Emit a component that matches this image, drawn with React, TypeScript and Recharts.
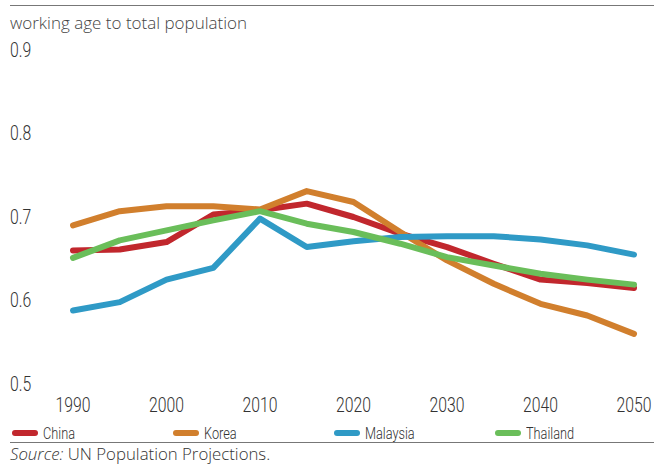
import React from "react";
import { LineChart, Line, XAxis, YAxis } from "recharts";

const years = [1990, 1995, 2000, 2005, 2010, 2015, 2020, 2025, 2030, 2035, 2040, 2045, 2050];
const china = [0.66, 0.661, 0.67, 0.703, 0.708, 0.716, 0.7, 0.68, 0.664, 0.644, 0.625, 0.621, 0.615];
const korea = [0.69, 0.707, 0.713, 0.713, 0.709, 0.731, 0.718, 0.682, 0.648, 0.62, 0.596, 0.582, 0.56];
const malaysia = [0.588, 0.598, 0.625, 0.639, 0.698, 0.664, 0.671, 0.676, 0.677, 0.677, 0.673, 0.666, 0.655];
const thailand = [0.651, 0.672, 0.684, 0.696, 0.707, 0.692, 0.682, 0.668, 0.652, 0.642, 0.632, 0.625, 0.619];
const xTicks = [1990, 2000, 2010, 2020, 2030, 2040, 2050];
const yTicks = [0.5, 0.6, 0.7, 0.8, 0.9];

const series = [
  { key: "china", name: "China", color: "#C1272D" },
  { key: "korea", name: "Korea", color: "#D17F2D" },
  { key: "malaysia", name: "Malaysia", color: "#2F9AC6" },
  { key: "thailand", name: "Thailand", color: "#6ABE5A" },
];

const data = years.map((year, i) => ({
  year,
  china: china[i],
  korea: korea[i],
  malaysia: malaysia[i],
  thailand: thailand[i],
}));

// no condensed font installed, so squeeze Roboto horizontally
const SQUEEZE = 0.75;

const XTick = ({ x, y, payload }: any) => (
  <text transform={`translate(${x},${y + 13.5}) scale(${SQUEEZE},1)`} textAnchor="middle"
    dominantBaseline="central" fontFamily="Roboto, sans-serif" fontWeight={300} fontSize={21} fill="#333">
    {payload.value}
  </text>
);

const YTick = ({ y, payload }: any) => (
  <text transform={`translate(10,${y}) scale(${SQUEEZE},1)`} textAnchor="start"
    dominantBaseline="central" fontFamily="Roboto, sans-serif" fontWeight={300} fontSize={21} fill="#333">
    {payload.value.toFixed(1)}
  </text>
);

export default function App() {
  return (
    <div style={{ position: "absolute", left: 0, top: 0, width: 654, height: 464, background: "#fff", overflow: "hidden" }}>
      <div style={{ position: "absolute", left: 10, top: 5, width: 644, height: 1, background: "#777" }} />
      <div style={{ position: "absolute", left: 10, top: 13.5, lineHeight: 1, fontFamily: "'Open Sans', sans-serif", fontWeight: 300, fontSize: 17, color: "#444", whiteSpace: "nowrap" }}>
        working age to total population
      </div>
      <div style={{ position: "absolute", left: 0, top: 0 }}>
        <LineChart width={654} height={420} data={data} margin={{ top: 50, right: 20, bottom: 0, left: 0 }}>
          <XAxis dataKey="year" type="number" domain={[1990, 2050]} ticks={xTicks}
            axisLine={false} tickLine={false} tick={<XTick />} height={36} interval={0} />
          <YAxis type="number" domain={[0.5, 0.9]} ticks={yTicks} width={73}
            axisLine={false} tickLine={false} tick={<YTick />} interval={0} />
          {series.map((s) => (
            <Line key={s.key} dataKey={s.key} name={s.name} stroke={s.color} strokeWidth={6}
              dot={false} type="linear" strokeLinecap="round" strokeLinejoin="round"
              isAnimationActive={false} />
          ))}
        </LineChart>
      </div>
      {series.map((s, i) => (
        <div key={s.key} style={{ position: "absolute", left: 10 + i * 161, top: 423, height: 20, display: "flex", alignItems: "center" }}>
          <div style={{ width: 26, height: 6, borderRadius: 3, background: s.color, marginLeft: 2 }} />
          <span style={{ marginLeft: 5, fontFamily: "Roboto, sans-serif", fontWeight: 300, fontSize: 17, color: "#333", display: "inline-block", transform: `scaleX(${SQUEEZE})`, transformOrigin: "left center", whiteSpace: "nowrap" }}>{s.name}</span>
        </div>
      ))}
      <div style={{ position: "absolute", left: 10, top: 442, width: 644, height: 1, background: "#777" }} />
      <div style={{ position: "absolute", left: 10, top: 445.5, lineHeight: 1, fontFamily: "'Open Sans', sans-serif", fontWeight: 300, fontSize: 16.8, color: "#333", whiteSpace: "nowrap" }}>
        <i>Source:</i> UN Population Projections.
      </div>
    </div>
  );
}
